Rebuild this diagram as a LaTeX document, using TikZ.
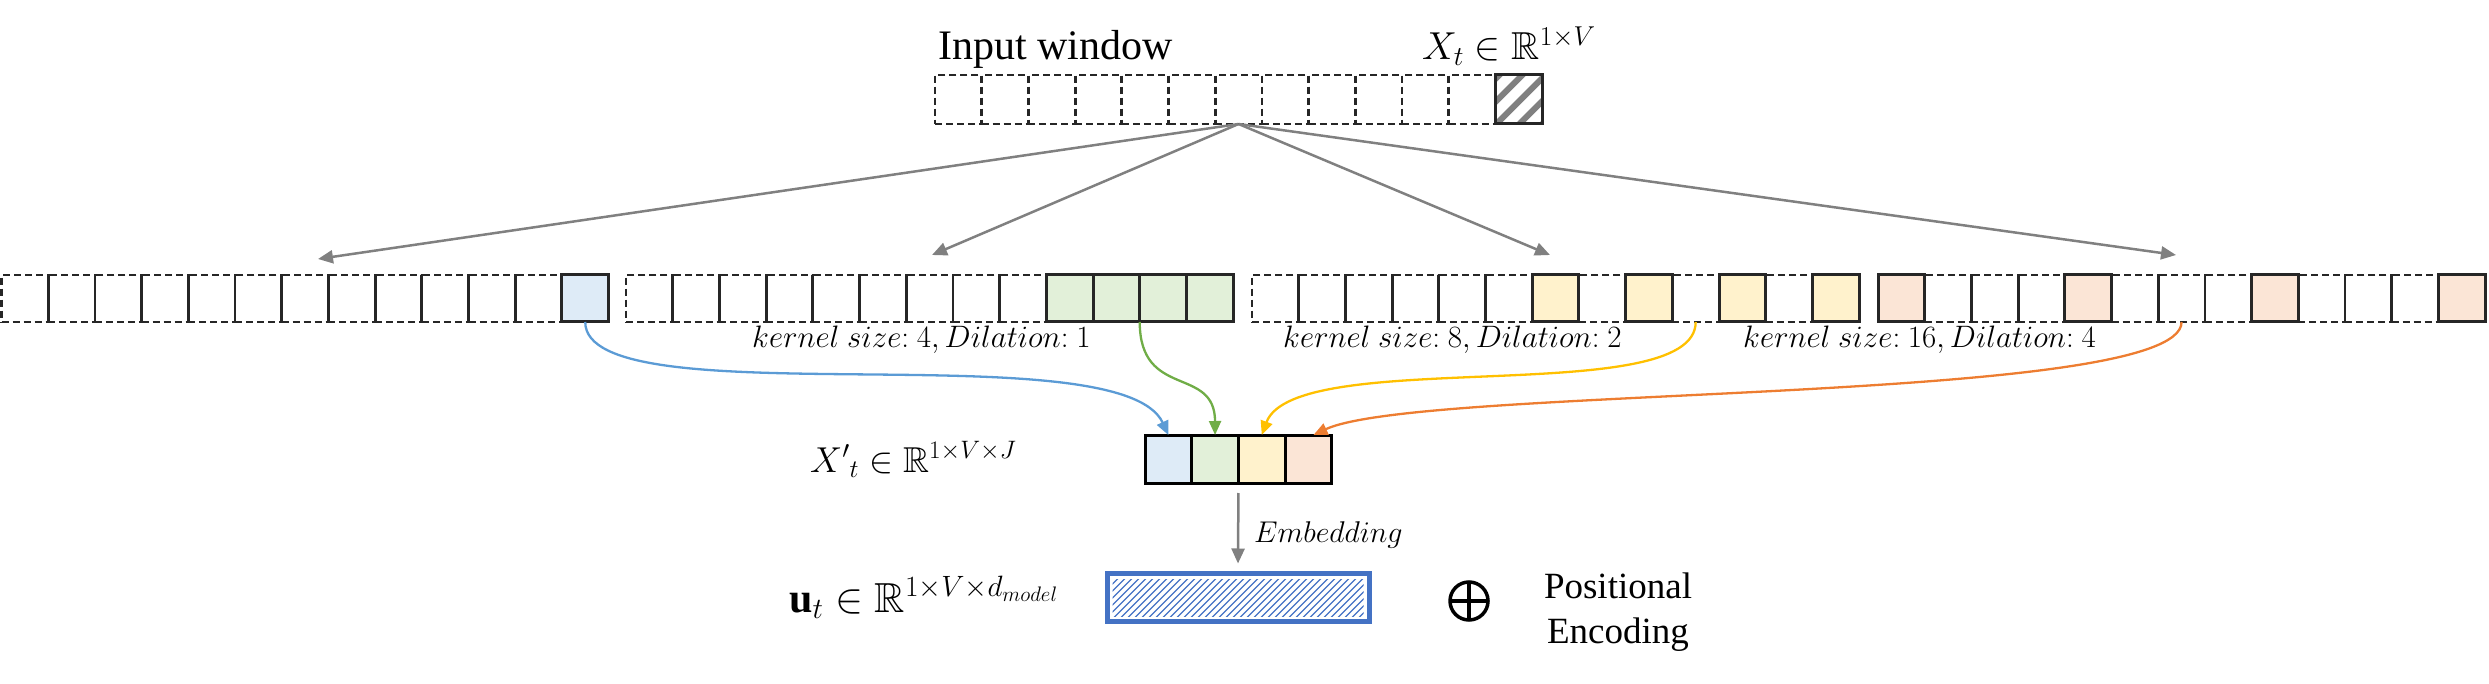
\RequirePackage{fix-cm}
\documentclass[tikz,border=0pt]{standalone}
\usepackage{amsmath,amssymb}
\usepackage{fontspec}
\setmainfont{Liberation Serif}
\usetikzlibrary{arrows.meta,calc}
\definecolor{cblue}{HTML}{5B9BD5}
\definecolor{cgreen}{HTML}{70AD47}
\definecolor{cyel}{HTML}{FFC000}
\definecolor{cora}{HTML}{ED7D31}
\definecolor{fblue}{HTML}{DEEBF7}
\definecolor{fgreen}{HTML}{E2F0D9}
\definecolor{fyel}{HTML}{FFF2CC}
\definecolor{fora}{HTML}{FBE5D6}
\definecolor{ublue}{HTML}{4472C4}
\definecolor{lgray}{HTML}{808080}
\definecolor{dk}{HTML}{262626}
\begin{document}
\begin{tikzpicture}[x=1pt,y=-1pt,
  cell/.style={minimum width=46.7pt,minimum height=47pt,inner sep=0pt,outer sep=0pt},
  dcell/.style={cell,draw=dk,line width=2.8pt,dash pattern=on 7pt off 4pt},
  scell/.style={cell,draw=dk,line width=3pt},
  garrow/.style={draw=lgray,line width=2.5pt,-{Triangle[length=15pt,width=13pt]}},
  carrow/.style={line width=2.3pt,-{Triangle[length=14pt,width=12pt]}},
  lab/.style={inner sep=0pt,anchor=base west}]
\useasboundingbox (0,0) rectangle (2489,684);
% top row
\foreach \i in {0,...,11} \node[dcell,minimum height=49pt] (t\i) at ({958.35+\i*46.7},99.5) {};
\node[scell,minimum height=49pt,path picture={
  \foreach \k in {-45,-22,...,55}{\draw[lgray,line width=6pt] ([xshift=\k pt]path picture bounding box.south west) -- ++(60pt,60pt);}}]
  (t12) at ({958.35+12*46.7},99.5) {};
% row 1
\foreach \i in {0,...,11} \node[dcell] (a\i) at ({24.85+\i*46.7},298.5) {};
\node[scell,fill=fblue] (a12) at ({24.85+12*46.7},298.5) {};
% row 2
\foreach \i in {0,...,8} \node[dcell] (b\i) at ({649.35+\i*46.7},298.5) {};
\foreach \i in {9,...,12} \node[scell,fill=fgreen] (b\i) at ({649.35+\i*46.7},298.5) {};
% row 3
\foreach \i in {0,...,5,7,9,11} \node[dcell] (c\i) at ({1275.35+\i*46.7},298.5) {};
\foreach \i in {6,8,10,12} \node[scell,fill=fyel] (c\i) at ({1275.35+\i*46.7},298.5) {};
% row 4
\foreach \i in {1,2,3,5,6,7,9,10,11} \node[dcell] (d\i) at ({1901.35+\i*46.7},298.5) {};
\foreach \i in {0,4,8,12} \node[scell,fill=fora] (d\i) at ({1901.35+\i*46.7},298.5) {};
% X' box
\foreach \i/\c in {1/fblue,2/fgreen,3/fyel,4/fora}
  \node[scell,draw=black,fill=\c,minimum height=48pt] (x\i) at ({1145+23.35+(\i-1)*46.7},459) {};
% u box
\node[draw=ublue,line width=5pt,minimum width=262pt,minimum height=48pt,inner sep=0pt,outer sep=0pt,
  path picture={
  \clip ([shift={(5.5pt,5.5pt)}]path picture bounding box.south west) rectangle ([shift={(-5.5pt,-5.5pt)}]path picture bounding box.north east);
  \foreach \k in {-60,-53,...,270}{\draw[ublue,line width=1.3pt] ([xshift=\k pt]path picture bounding box.south west) -- ++(60pt,60pt);}}]
  (ut) at (1238,597.5) {};
% gray arrows
\coordinate (p1) at (318,259);
\coordinate (p2) at (932,255);
\coordinate (p3) at (1550,255);
\coordinate (p4) at (2176,255);
\foreach \p in {p1,p2,p3,p4} \draw[garrow] (t6.south) -- (\p);
\draw[garrow] ([yshift=-10pt]x3.south west) -- ([yshift=10pt]ut.north);
% colored arrows
\draw[carrow,cblue] (a12.south) .. controls (585,420) and (1120,330) .. (x1.north);
\draw[carrow,cgreen] (b11.south west) .. controls (1140,400) and (1215,365) .. (x2.north);
\draw[carrow,cyel] (c9.south) .. controls (1696,410) and (1295,345) .. (x3.north);
\draw[carrow,cora] (d6.south) .. controls (2182,405) and (1420,385) .. ([xshift=5pt]x4.north);
% labels
\node[lab,font=\fontsize{42}{50}\selectfont] (inw) at (938,60) {Input window};
\node[lab,font=\fontsize{39}{47}\selectfont] (xt) at (1422,60) {$X_t \in \mathbb{R}^{1\times V}$};
\node[lab,font=\fontsize{31}{37}\selectfont] (k1) at (752,348) {$kernel\ size{:}\ 4, Dilation{:}\ 1$};
\node[lab,font=\fontsize{31}{37}\selectfont] (k2) at (1283,348) {$kernel\ size{:}\ 8, Dilation{:}\ 2$};
\node[lab,font=\fontsize{31}{37}\selectfont] (k3) at (1743,348) {$kernel\ size{:}\ 16, Dilation{:}\ 4$};
\node[lab,font=\fontsize{36}{44}\selectfont] (xpl) at (810,472) {${X'}_{t} \in \mathbb{R}^{1\times V\times J}$};
\node[lab,font=\fontsize{30}{36}\selectfont] (emb) at (1254,542) {$Embedding$};
\node[lab,font=\fontsize{42}{50}\selectfont] (ul) at (789,612) {$\mathbf{u}_t \in \mathbb{R}^{1\times V\times d_{model}}$};
\node[circle,draw=black,line width=3.5pt,minimum size=38pt,inner sep=0pt,
  path picture={\draw[line width=3.5pt] (path picture bounding box.north) -- (path picture bounding box.south) (path picture bounding box.west) -- (path picture bounding box.east);}]
  (op) at (1469,601) {};
\node[align=center,font=\fontsize{37}{45}\selectfont,inner sep=0pt] (pe) at (1618,612) {Positional\\Encoding};
\end{tikzpicture}
\end{document}
